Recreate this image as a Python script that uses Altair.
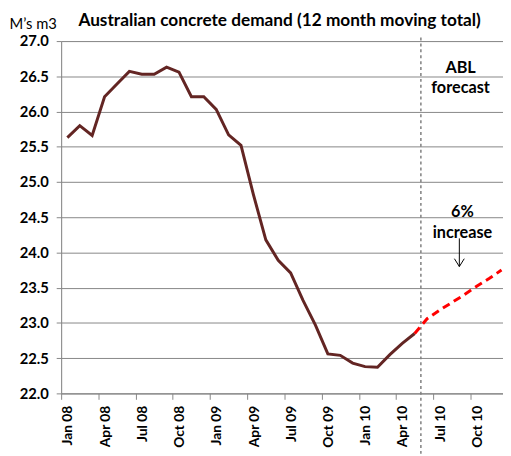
import altair as alt
import pandas as pd

# ---- data ----
title_text = "Australian concrete demand (12 month moving total)"
tick_labels = ["Jan 08", "Apr 08", "Jul 08", "Oct 08", "Jan 09", "Apr 09",
               "Jul 09", "Oct 09", "Jan 10", "Apr 10", "Jul 10", "Oct 10"]
# monthly 12-month moving totals, Jan 08 .. May 10 (M's m3)
actual = [25.63, 25.80, 25.66, 26.21, 26.39, 26.57, 26.53, 26.53, 26.63, 26.56,
          26.21, 26.21, 26.03, 25.67, 25.52, 24.82, 24.18, 23.89, 23.71, 23.32,
          22.97, 22.56, 22.54, 22.43, 22.38, 22.37, 22.55, 22.71, 22.85]
# ABL forecast, May 10 .. Dec 10
forecast = [22.85, 23.06, 23.18, 23.29, 23.40, 23.52, 23.63, 23.75]
forecast_first_month = 28          # month index of first forecast value (May 10)
forecast_divider = 29              # boundary before Jun 10
annotations_text = ["ABL", "forecast", "6%", "increase"]
annotations_month = [32.2, 32.2, 32.35, 32.35]
annotations_value = [26.62, 26.33, 24.57, 24.27]
arrow_month = 32.1
arrow_from, arrow_to = 24.20, 23.80
title_month, title_value = 17.61, 27.21

FONT = "Lato"
GRID = "#868686"

df_a = pd.DataFrame({"m": [i + 0.5 for i in range(len(actual))], "v": actual})
df_f = pd.DataFrame({"m": [forecast_first_month + i + 0.5 for i in range(len(forecast))],
                     "v": forecast})
df_div = pd.DataFrame({"m": [forecast_divider], "v": [27.05], "v2": [21.1]})
df_txt = pd.DataFrame({"m": annotations_month, "v": annotations_value, "t": annotations_text})
df_arrow = pd.DataFrame({"m": [arrow_month], "v": [arrow_from], "v2": [arrow_to]})
df_head = pd.DataFrame({"m": [arrow_month], "v": [arrow_to]})
df_title = pd.DataFrame({"m": [title_month], "v": [title_value], "t": [title_text]})

label_array = "[" + ",".join("'%s'" % s for s in tick_labels) + "]"

x_scale = alt.Scale(domain=[0, 35.62], nice=False, zero=False)
y_scale = alt.Scale(domain=[22, 27], nice=False, zero=False)

x_axis = alt.Axis(
    values=[3 * i for i in range(len(tick_labels))],
    labelExpr=label_array + "[round(datum.value / 3)]",
    labelAngle=-90, labelOffset=7, labelPadding=6,
    labelFont=FONT, labelFontSize=14, labelFontWeight="bold", labelColor="black",
    grid=False, tickSize=6, tickColor=GRID, domainColor=GRID, title=None,
)
y_axis = alt.Axis(
    values=[22 + 0.5 * i for i in range(11)], format=".1f",
    labelFont=FONT, labelFontSize=15, labelFontWeight="bold", labelColor="black",
    labelPadding=8, tickSize=5, tickColor=GRID, domainColor=GRID,
    grid=True, gridColor=GRID, gridWidth=1,
    title="M\u2019s m3", titleAngle=0, titleX=-53, titleY=-18, titleAlign="left",
    titleBaseline="middle", titleFont=FONT, titleFontSize=15, titleFontWeight="normal",
    titleColor="black",
)

X = lambda: alt.X("m:Q", scale=x_scale, axis=x_axis)
Y = lambda: alt.Y("v:Q", scale=y_scale, axis=y_axis)

line_a = alt.Chart(df_a).mark_line(color="#632523", strokeWidth=3).encode(x=X(), y=Y())
line_f = alt.Chart(df_f).mark_line(color="#FF0000", strokeWidth=3, strokeDash=[8, 5]).encode(x=X(), y=Y())
divider = alt.Chart(df_div).mark_rule(color="#7f7f7f", strokeWidth=1.5, strokeDash=[3, 3]).encode(
    x=X(), y=Y(), y2="v2:Q")
texts = alt.Chart(df_txt).mark_text(font=FONT, fontSize=16.5, fontWeight="bold", color="black",
                                    align="center", baseline="middle").encode(x=X(), y=Y(), text="t:N")
title = alt.Chart(df_title).mark_text(font=FONT, fontSize=17.5, fontWeight="bold", color="black",
                                      align="center", baseline="alphabetic").encode(x=X(), y=Y(), text="t:N")
arrow = alt.Chart(df_arrow).mark_rule(color="black", strokeWidth=1).encode(x=X(), y=Y(), y2="v2:Q")
head = alt.Chart(df_head).mark_point(shape="M-1,-1.6L0,0L1,-1.6", size=100, filled=False,
                                     color="black", strokeWidth=1, opacity=1).encode(x=X(), y=Y())

chart = alt.layer(divider, line_a, line_f, texts, title, arrow, head).properties(
    width=449, height=358,
    autosize=alt.AutoSizeParams(type="none"),
    padding={"left": 54, "top": 30, "right": 0, "bottom": 60},
).configure_view(stroke=None).configure(background="white")

chart.save("out.html", embed_options={"renderer": "svg", "actions": False})
